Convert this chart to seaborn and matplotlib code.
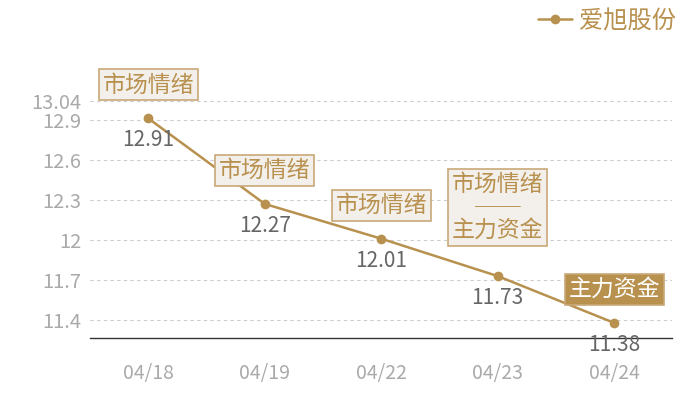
import matplotlib
matplotlib.use('Agg')
import matplotlib.pyplot as plt
import seaborn as sns
import pandas as pd
from matplotlib.lines import Line2D

# data
dates = ['04/18', '04/19', '04/22', '04/23', '04/24']
prices = [12.91, 12.27, 12.01, 11.73, 11.38]
tags = ['市场情绪', '市场情绪', '市场情绪', '市场情绪\n──\n主力资金', '主力资金']
y_ticks = [11.4, 11.7, 12, 12.3, 12.6, 12.9, 13.04]
y_tick_labels = ['11.4', '11.7', '12', '12.3', '12.6', '12.9', '13.04']
series_name = '爱旭股份'

GOLD = '#b8914f'

sns.set_theme(style='white')
plt.rcParams['font.family'] = ['Noto Sans CJK SC', 'DejaVu Sans']

df = pd.DataFrame({'date': dates, 'price': prices})

fig = plt.figure(figsize=(7, 4), dpi=100)
ax = fig.add_axes([0.1286, 0.155, 0.8321, 0.5925])

sns.lineplot(data=df, x='date', y='price', ax=ax, color=GOLD, linewidth=1.8,
             marker='o', markersize=7, markeredgewidth=0, sort=False)

ax.set_xlim(-0.5, len(dates) - 0.5)
ax.set_ylim(11.267, 13.04)
ax.set_yticks(y_ticks)
ax.set_yticklabels(y_tick_labels)
ax.set_xlabel('')
ax.set_ylabel('')

for y in y_ticks:
    ax.axhline(y, color='#cccccc', linewidth=0.8, linestyle=(0, (3, 3)), zorder=0)

for s in ['top', 'right', 'left']:
    ax.spines[s].set_visible(False)
ax.spines['bottom'].set_color('#333333')
ax.spines['bottom'].set_linewidth(1)

ax.tick_params(axis='y', length=0, labelsize=14.5, labelcolor='#aaaaaa', pad=6)
ax.tick_params(axis='x', length=0, labelsize=14, labelcolor='#aaaaaa', pad=18)

# value labels under the points
for i, v in enumerate(prices):
    ax.annotate(f'{v:.2f}', (i, v), xytext=(0, -22), textcoords='offset pixels',
                ha='center', va='center', fontsize=15, color='#666666')

# tag boxes above the points
for i, (v, t) in enumerate(zip(prices, tags)):
    filled = t == '主力资金'
    gap = 29 if '\n' in t else 17
    ax.annotate(t, (i, v), xytext=(0, gap + 5), textcoords='offset pixels',
                ha='center', va='bottom', fontsize=16.5,
                color='white' if filled else GOLD, linespacing=1.0,
                annotation_clip=False, zorder=5,
                bbox=dict(boxstyle='square,pad=0.17',
                          facecolor=GOLD if filled else '#f3efea',
                          edgecolor='#c8a878', linewidth=1.2))

# legend top right
handle = Line2D([0], [0], color=GOLD, linewidth=1.8, marker='o', markersize=7,
                markeredgewidth=0)
fig.legend([handle], [series_name], loc='upper right', bbox_to_anchor=(0.997, 1.035),
           frameon=False, fontsize=17.5, labelcolor=GOLD, handlelength=1.4,
           handletextpad=0.3)

fig.savefig('out.png', dpi=100)
